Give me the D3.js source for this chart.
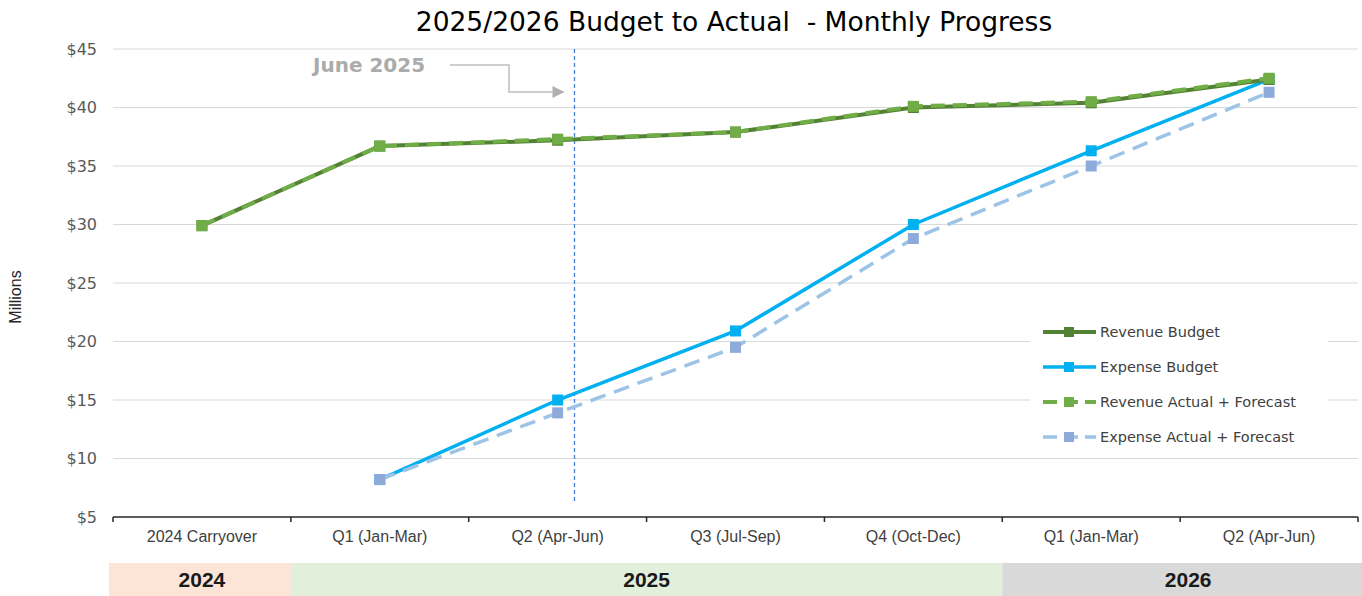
<!DOCTYPE html>
<html>
<head>
<meta charset="utf-8">
<script src="https://cdn.jsdelivr.net/npm/d3@7"></script>
<style>
  body { margin: 0; background: #fff; }
  svg { display: block; }
</style>
</head>
<body>
<div id="chart"></div>
<script>
// chart values
var categories = ["2024 Carryover", "Q1 (Jan-Mar)", "Q2 (Apr-Jun)", "Q3 (Jul-Sep)",
  "Q4 (Oct-Dec)", "Q1 (Jan-Mar)", "Q2 (Apr-Jun)"];
var revenueBudget = [29.9, 36.7, 37.2, 37.9, 40.0, 40.4, 42.4];
var expenseBudget = [null, 8.2, 15.0, 20.9, 30.0, 36.3, 42.4];
var revenueActual = [29.9, 36.7, 37.3, 37.9, 40.1, 40.5, 42.5];
var expenseActual = [null, 8.2, 13.9, 19.5, 28.8, 35.0, 41.3];
var yTicks = [5, 10, 15, 20, 25, 30, 35, 40, 45];

// year bands under the axis (start / end in category index)
var years = ["2024", "2025", "2026"];
var yearStart = [0, 1, 5];
var yearEnd = [1, 5, 7];
var yearColors = ["#fce4d6", "#e2efda", "#d9d9d9"];

// "June 2025" marker, as a fractional category position
var markerLabel = "June 2025";
var markerPos = 2.09;

var seriesNames = ["Revenue Budget", "Expense Budget", "Revenue Actual + Forecast", "Expense Actual + Forecast"];

// page size and margins
var W = 1362, H = 596;
var margin = {top: 49, right: 4, bottom: 79, left: 113};
var width = W - margin.left - margin.right,
    height = H - margin.top - margin.bottom;

var svg = d3.select("#chart").append("svg")
    .attr("width", W)
    .attr("height", H);

// scales
var x = d3.scaleBand()
    .domain(d3.range(categories.length))
    .range([0, width])
    .padding(0);
var y = d3.scaleLinear()
    .domain([5, 45])
    .range([height, 0]);

// center of a (possibly fractional) category
function xAt(i) {
  return x.step() * (i + 0.5);
}

var g = svg.append("g")
    .attr("transform", "translate(" + margin.left + "," + margin.top + ")");

// title (keeps the double space of the original)
svg.append("text")
    .attr("x", 734)
    .attr("y", 31)
    .attr("text-anchor", "middle")
    .attr("xml:space", "preserve")
    .style("white-space", "pre")
    .style("font-family", "'DejaVu Sans', sans-serif")
    .style("font-size", "26.5px")
    .style("fill", "#000")
    .text("2025/2026 Budget to Actual  - Monthly Progress");

// gridlines
g.append("g")
  .selectAll("line")
  .data(yTicks.slice(1))
  .enter().append("line")
    .attr("x1", 0)
    .attr("x2", width)
    .attr("y1", function(d) { return y(d); })
    .attr("y2", function(d) { return y(d); })
    .style("stroke", "#d9d9d9")
    .style("stroke-width", 1);

// y axis labels
var yAxis = g.append("g")
    .call(d3.axisLeft(y).tickValues(yTicks).tickSize(0).tickPadding(16)
      .tickFormat(function(d) { return "$" + d; }));
yAxis.select(".domain").remove();
yAxis.selectAll("text")
    .style("font-family", "'DejaVu Sans', sans-serif")
    .style("font-size", "16px")
    .style("fill", "#595959");

// y axis title
svg.append("text")
    .attr("transform", "translate(21,297) rotate(-90)")
    .attr("text-anchor", "middle")
    .style("font-family", "'Liberation Sans', Arial, sans-serif")
    .style("font-size", "16px")
    .style("fill", "#262626")
    .text("Millions");

// x axis
var xAxisG = g.append("g")
    .attr("transform", "translate(0," + height + ")");
xAxisG.append("line")
    .attr("x1", 0).attr("x2", width)
    .attr("y1", 0).attr("y2", 0)
    .style("stroke", "#262626")
    .style("stroke-width", 1.5);
xAxisG.selectAll(".tick")
  .data(d3.range(categories.length + 1))
  .enter().append("line")
    .attr("x1", function(d) { return x.step() * d; })
    .attr("x2", function(d) { return x.step() * d; })
    .attr("y1", 0).attr("y2", 5)
    .style("stroke", "#262626")
    .style("stroke-width", 1.5);
xAxisG.selectAll(".xlabel")
  .data(categories)
  .enter().append("text")
    .attr("x", function(d, i) { return xAt(i); })
    .attr("y", 25)
    .attr("text-anchor", "middle")
    .style("font-family", "'Liberation Sans', Arial, sans-serif")
    .style("font-size", "16px")
    .style("fill", "#404040")
    .text(function(d) { return d; });

// year bands
var bandG = svg.append("g")
    .attr("transform", "translate(" + margin.left + ",563)");
bandG.selectAll("rect")
  .data(years)
  .enter().append("rect")
    .attr("x", function(d, i) { return i == 0 ? -4 : x.step() * yearStart[i]; })
    .attr("width", function(d, i) {
      var x0 = i == 0 ? -4 : x.step() * yearStart[i];
      var x1 = i == years.length - 1 ? W - margin.left : x.step() * yearEnd[i];
      return x1 - x0;
    })
    .attr("y", 0)
    .attr("height", H - 563)
    .style("fill", function(d, i) { return yearColors[i]; });
bandG.selectAll("text")
  .data(years)
  .enter().append("text")
    .attr("x", function(d, i) {
      if (i == years.length - 1) return (x.step() * yearStart[i] + W - margin.left) / 2 + 6;
      return x.step() * (yearStart[i] + yearEnd[i]) / 2;
    })
    .attr("y", 24)
    .attr("text-anchor", "middle")
    .style("font-family", "'Liberation Sans', Arial, sans-serif")
    .style("font-weight", "bold")
    .style("font-size", "21px")
    .style("fill", "#1a1a1a")
    .text(function(d) { return d; });

// June 2025 marker line
var mx = Math.round(xAt(markerPos)) + 0.5;
g.append("line")
    .attr("x1", mx).attr("x2", mx)
    .attr("y1", 0).attr("y2", y(6.2))
    .style("stroke", "#4a7fd8")
    .style("stroke-width", 1.3)
    .style("stroke-dasharray", "4,3");

// June 2025 label and elbow arrow
g.append("text")
    .attr("x", 200)
    .attr("y", 23)
    .style("font-family", "'DejaVu Sans', sans-serif")
    .style("font-weight", "bold")
    .style("font-size", "20px")
    .style("fill", "#ababab")
    .text(markerLabel);
g.append("path")
    .attr("d", "M337,16 H396 V43 H" + (mx - 22))
    .style("fill", "none")
    .style("stroke", "#bfbfbf")
    .style("stroke-width", 1.5);
g.append("path")
    .attr("d", "M" + (mx - 22) + ",37 L" + (mx - 10) + ",43 L" + (mx - 22) + ",49 Z")
    .style("fill", "#b0b0b0");

// series drawing
var line = d3.line()
    .defined(function(d) { return d != null; })
    .x(function(d, i) { return xAt(i); })
    .y(function(d) { return y(d); });

var styles = [
  {data: revenueBudget, color: "#548235", marker: "#548235", width: 4, dash: null},
  {data: expenseBudget, color: "#00b0f0", marker: "#00b0f0", width: 3.5, dash: null},
  {data: revenueActual, color: "#70ad47", marker: "#70ad47", width: 4, dash: "14,8"},
  {data: expenseActual, color: "#9dc3e6", marker: "#8eaadb", width: 3.5, dash: "16,9"}
];
var drawOrder = [1, 3, 0, 2];
var ms = 11;

drawOrder.forEach(function(k) {
  var s = styles[k];
  g.append("path")
      .datum(s.data)
      .attr("d", line)
      .style("fill", "none")
      .style("stroke", s.color)
      .style("stroke-width", s.width)
      .style("stroke-dasharray", s.dash);
  g.selectAll(".m" + k)
    .data(s.data.map(function(v, i) { return {v: v, i: i}; })
      .filter(function(d) { return d.v != null; }))
    .enter().append("rect")
      .attr("x", function(d) { return xAt(d.i) - ms / 2; })
      .attr("y", function(d) { return y(d.v) - ms / 2; })
      .attr("width", ms)
      .attr("height", ms)
      .style("fill", s.marker);
});

// legend
var legend = svg.append("g");
legend.append("rect")
    .attr("x", 1030).attr("y", 314)
    .attr("width", 298).attr("height", 138)
    .style("fill", "#fff");
var rowY = [332, 367, 402, 437];
seriesNames.forEach(function(name, k) {
  var s = styles[k];
  legend.append("line")
      .attr("x1", 1043).attr("x2", 1096)
      .attr("y1", rowY[k]).attr("y2", rowY[k])
      .style("stroke", s.color)
      .style("stroke-width", s.width)
      .style("stroke-dasharray", s.dash ? "14,7" : null);
  legend.append("rect")
      .attr("x", 1069 - 5).attr("y", rowY[k] - 5)
      .attr("width", 10).attr("height", 10)
      .style("fill", s.marker);
  legend.append("text")
      .attr("x", 1100)
      .attr("y", rowY[k] + 5)
      .style("font-family", "'DejaVu Sans', sans-serif")
      .style("font-size", "14.5px")
      .style("fill", "#404040")
      .text(name);
});
</script>
</body>
</html>
